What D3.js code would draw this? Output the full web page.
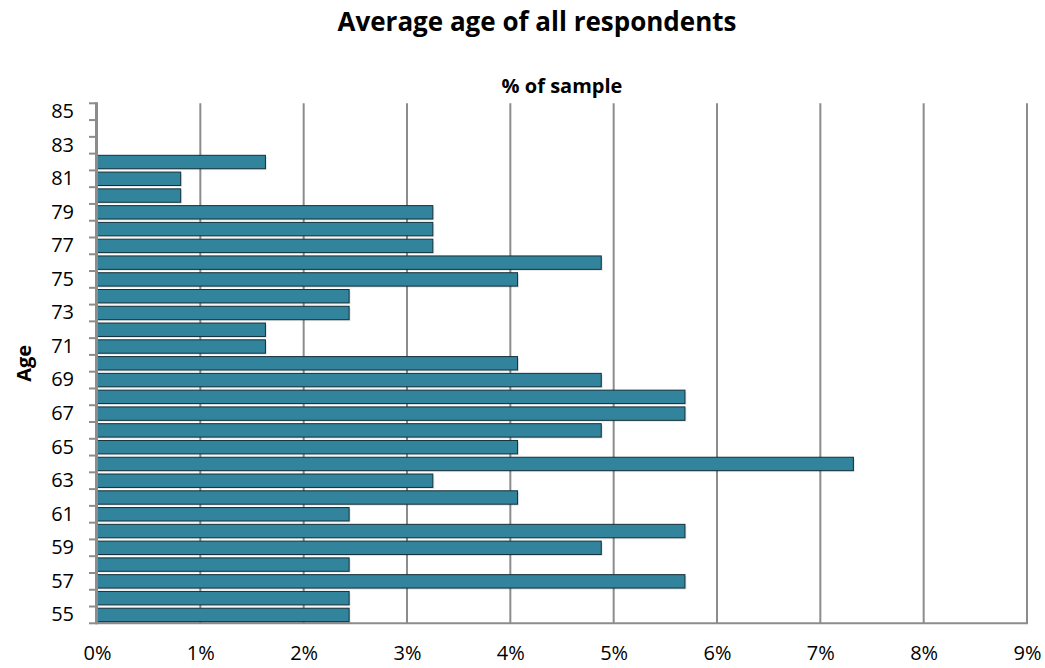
<!DOCTYPE html>
<html>
<head>
<meta charset="utf-8">
<script src="https://cdn.jsdelivr.net/npm/d3@7"></script>
<style>
  html, body { margin: 0; padding: 0; background: #fff; }
  svg { display: block; font-family: "Open Sans", Lato, "DejaVu Sans", sans-serif; }
</style>
</head>
<body>
<svg id="chart" width="1045" height="668"></svg>
<script>
// Age categories, listed from the top of the chart to the bottom
const ages = [85, 84, 83, 82, 81, 80, 79, 78, 77, 76, 75, 74, 73, 72, 71, 70,
              69, 68, 67, 66, 65, 64, 63, 62, 61, 60, 59, 58, 57, 56, 55];
// Share of the sample (%) at each age, same order as `ages`
const shares = [0, 0, 0, 1.63, 0.81, 0.81, 3.25, 3.25, 3.25, 4.88, 4.07, 2.44, 2.44, 1.63, 1.63, 4.07,
                4.88, 5.69, 5.69, 4.88, 4.07, 7.32, 3.25, 4.07, 2.44, 5.69, 4.88, 2.44, 5.69, 2.44, 2.44];
// Labelled ages on the vertical axis
const ageLabels = [85, 83, 81, 79, 77, 75, 73, 71, 69, 67, 65, 63, 61, 59, 57, 55];
// Percent ticks on the horizontal axis
const pctTicks = [0, 1, 2, 3, 4, 5, 6, 7, 8, 9];

const titleText = "Average age of all respondents";
const xTitle = "% of sample";
const yTitle = "Age";

const svg = d3.select("#chart");
const plotLeft = 97, plotRight = 1027, plotTop = 103.3, plotBottom = 623.3;

const x = d3.scaleLinear().domain([0, 9]).range([plotLeft, plotRight]);
const y = d3.scaleBand().domain(ages).range([plotTop, plotBottom])
  .paddingInner(0.2).paddingOuter(0.1);

const grid = "#8c8c8c";
const labelFont = "'Open Sans', Lato, sans-serif";

// vertical gridlines
svg.append("g").selectAll("line").data(pctTicks.slice(1)).join("line")
  .attr("x1", d => x(d)).attr("x2", d => x(d))
  .attr("y1", plotTop).attr("y2", plotBottom)
  .attr("stroke", grid).attr("stroke-width", 2);

// bottom axis line
svg.append("line")
  .attr("x1", plotLeft).attr("x2", plotRight + 1)
  .attr("y1", plotBottom).attr("y2", plotBottom)
  .attr("stroke", grid).attr("stroke-width", 2);

// soft shadow under each bar
const barData = ages.map((a, i) => ({ age: a, v: shares[i] })).filter(d => d.v > 0);
svg.append("g").selectAll("rect").data(barData).join("rect")
  .attr("x", x(0) + 1.5)
  .attr("y", d => y(d.age) + 1.5)
  .attr("width", d => x(d.v) - x(0))
  .attr("height", y.bandwidth())
  .attr("fill", "rgba(0,0,0,0.10)");

// bars
svg.append("g").selectAll("rect").data(barData).join("rect")
  .attr("x", x(0))
  .attr("y", d => y(d.age))
  .attr("width", d => x(d.v) - x(0))
  .attr("height", y.bandwidth())
  .attr("fill", "#31849b")
  .attr("stroke", "#12303a")
  .attr("stroke-width", 1);

// vertical axis: line plus tick marks on category boundaries
const step = y.step();
const boundaries = d3.range(ages.length + 1).map(i => plotTop + i * step);
svg.append("g").selectAll("line").data(boundaries).join("line")
  .attr("x1", plotLeft - 8).attr("x2", plotLeft)
  .attr("y1", d => d).attr("y2", d => d)
  .attr("stroke", grid).attr("stroke-width", 2);
svg.append("line")
  .attr("x1", plotLeft - 0.5).attr("x2", plotLeft - 0.5)
  .attr("y1", plotTop - 1).attr("y2", plotBottom + 1)
  .attr("stroke", grid).attr("stroke-width", 3);

// age labels
const yAxis = d3.axisLeft(y).tickValues(ageLabels).tickSize(0).tickPadding(0);
const gy = svg.append("g").attr("transform", `translate(${plotLeft - 23},0)`).call(yAxis);
gy.select(".domain").remove();
gy.selectAll("text").attr("font-size", 20).attr("fill", "#000")
  .attr("font-family", labelFont);

// percent labels
const xAxis = d3.axisBottom(x).tickValues(pctTicks).tickFormat(d => d + "%").tickSize(0).tickPadding(0);
const gx = svg.append("g").attr("transform", `translate(0,${plotBottom + 22})`).call(xAxis);
gx.select(".domain").remove();
gx.selectAll("text").attr("font-size", 20).attr("fill", "#000")
  .attr("font-family", labelFont);

// titles
svg.append("text").attr("x", 537).attr("y", 31).attr("text-anchor", "middle")
  .attr("font-size", 26).attr("font-weight", "bold").text(titleText);
svg.append("text").attr("x", (plotLeft + plotRight) / 2).attr("y", 93).attr("text-anchor", "middle")
  .attr("font-size", 20).attr("font-weight", "bold").text(xTitle);
svg.append("text").attr("transform", `translate(31,${(plotTop + plotBottom) / 2}) rotate(-90)`)
  .attr("text-anchor", "middle").attr("font-size", 20).attr("font-weight", "bold").text(yTitle);
</script>
</body>
</html>
